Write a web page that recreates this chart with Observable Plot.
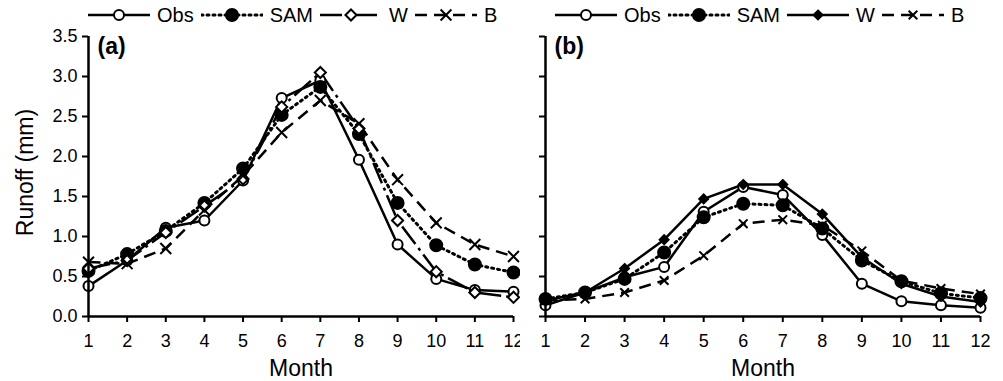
<!DOCTYPE html>
<html>
<head>
<meta charset="utf-8">
<script src="https://cdn.jsdelivr.net/npm/d3@7"></script>
<script src="https://cdn.jsdelivr.net/npm/@observablehq/plot@0.6"></script>
<style>
  body { margin: 0; background: #fff; }
  #wrap { display: flex; width: 1003px; height: 381px; overflow: hidden; }
  .legend { height: 30px; display: flex; align-items: center; font: 20px "Liberation Sans", Arial, sans-serif; color: #000; }
  .legend .item { display: flex; align-items: center; margin-right: 7px; }
  .legend .item span { margin-left: 7px; }
  .legend svg { display: block; }
  #plotA svg, #plotB svg { overflow: visible; }
</style>
</head>
<body>
<div id="wrap">
  <div id="colA" style="width:520px">
    <div class="legend" id="legA" style="padding-left:88px"></div>
    <div id="plotA"></div>
  </div>
  <div id="colB" style="width:483px">
    <div class="legend" id="legB" style="padding-left:35px"></div>
    <div id="plotB"></div>
  </div>
</div>
<script>
// ---- data ----
const months = [1, 2, 3, 4, 5, 6, 7, 8, 9, 10, 11, 12];
const seriesNames = ["Obs", "SAM", "W", "B"];
const yTicks = [0, 0.5, 1.0, 1.5, 2.0, 2.5, 3.0, 3.5];
const panelLabels = ["(a)", "(b)"];
const xLabel = "Month";
const yLabel = "Runoff (mm)";

// panel (a)
const obsA = [0.38, 0.70, 1.11, 1.20, 1.70, 2.73, 2.95, 1.96, 0.90, 0.47, 0.33, 0.31];
const samA = [0.57, 0.78, 1.07, 1.42, 1.85, 2.52, 2.87, 2.28, 1.42, 0.89, 0.65, 0.55];
const wA   = [0.60, 0.70, 1.05, 1.38, 1.72, 2.62, 3.05, 2.35, 1.20, 0.56, 0.30, 0.24];
const bA   = [0.68, 0.66, 0.85, 1.33, 1.76, 2.30, 2.70, 2.41, 1.71, 1.17, 0.90, 0.75];

// panel (b)
const obsB = [0.14, 0.30, 0.49, 0.62, 1.31, 1.62, 1.52, 1.02, 0.41, 0.19, 0.14, 0.11];
const samB = [0.22, 0.30, 0.47, 0.80, 1.24, 1.41, 1.39, 1.10, 0.70, 0.44, 0.29, 0.23];
const wB   = [0.20, 0.30, 0.60, 0.96, 1.47, 1.65, 1.65, 1.28, 0.74, 0.41, 0.25, 0.18];
const bB   = [0.20, 0.22, 0.30, 0.45, 0.76, 1.16, 1.21, 1.14, 0.82, 0.45, 0.35, 0.28];

// ---- styles ----
const styleA = {
  Obs: {dash: null,        symbol: "circle",   fill: "white", r: 5},
  SAM: {dash: "2,4",       symbol: "circle",   fill: "black", r: 6},
  W:   {dash: "22,5,3,5",  symbol: "diamond2", fill: "white", r: 5},
  B:   {dash: "12,7",      symbol: "times",    fill: "none",  r: 5}
};
const styleB = {
  Obs: {dash: null,   symbol: "circle",   fill: "white", r: 5},
  SAM: {dash: "2,4",  symbol: "circle",   fill: "black", r: 6},
  W:   {dash: null,   symbol: "diamond2", fill: "black", r: 4},
  B:   {dash: "12,7", symbol: "times",    fill: "none",  r: 4}
};
const d3Symbols = {circle: d3.symbolCircle, diamond2: d3.symbolDiamond2, times: d3.symbolTimes};

function rows(vals) { return months.map((m, i) => ({month: m, v: vals[i]})); }

function buildLegend(el, styles) {
  for (const name of seriesNames) {
    const s = styles[name];
    const item = document.createElement("div");
    item.className = "item";
    const ns = "http://www.w3.org/2000/svg";
    const svg = document.createElementNS(ns, "svg");
    svg.setAttribute("width", 62); svg.setAttribute("height", 30);
    const line = document.createElementNS(ns, "line");
    line.setAttribute("x1", 0); line.setAttribute("x2", 62);
    line.setAttribute("y1", 15); line.setAttribute("y2", 15);
    line.setAttribute("stroke", "black");
    line.setAttribute("stroke-width", name === "SAM" ? 3 : 2.5);
    if (s.dash) line.setAttribute("stroke-dasharray", s.dash);
    if (name === "SAM") line.setAttribute("stroke-linecap", "round");
    svg.appendChild(line);
    const p = document.createElementNS(ns, "path");
    p.setAttribute("d", d3.symbol(d3Symbols[s.symbol], Math.PI * s.r * s.r)());
    p.setAttribute("transform", "translate(31,15)");
    p.setAttribute("fill", s.fill);
    p.setAttribute("stroke", "black");
    p.setAttribute("stroke-width", 2);
    svg.appendChild(p);
    item.appendChild(svg);
    const t = document.createElement("span");
    t.textContent = name;
    item.appendChild(t);
    el.appendChild(item);
  }
}

function panel(dataList, styles, label, opts) {
  const marks = [];
  dataList.forEach((vals, i) => {
    const name = seriesNames[i];
    const s = styles[name];
    marks.push(Plot.line(rows(vals), {
      x: "month", y: "v", stroke: "black",
      strokeWidth: name === "SAM" ? 3 : 2.5,
      strokeDasharray: s.dash || undefined,
      strokeLinecap: name === "SAM" ? "round" : "butt"
    }));
  });
  dataList.forEach((vals, i) => {
    const s = styles[seriesNames[i]];
    marks.push(Plot.dot(rows(vals), {
      x: "month", y: "v", symbol: () => s.symbol, r: s.r,
      fill: s.fill, stroke: "black", strokeWidth: 2
    }));
  });
  return Plot.plot({
    width: opts.width, height: 351,
    marginTop: 6, marginBottom: 65, marginLeft: opts.marginLeft, marginRight: opts.marginRight,
    style: {fontFamily: '"Liberation Sans", Arial, sans-serif', fontSize: "18px", color: "black", background: "white", overflow: "visible"},
    x: {domain: [1, 12]},
    y: {domain: [0, 3.5]},
    symbol: {type: "identity"},
    marks: [
      Plot.axisX({ticks: months, tickFormat: d => String(d), tickSize: 6, tickPadding: 12, strokeWidth: 2, label: null}),
      Plot.axisY({ticks: yTicks, tickFormat: opts.yLabels ? (d => d.toFixed(1)) : (() => ""), tickSize: 6, tickPadding: 5, strokeWidth: 2, label: null}),
      ...marks,
      Plot.ruleY([0], {strokeWidth: 2.5}),
      Plot.ruleX([1], {strokeWidth: 2.5}),
      Plot.text([label], {text: d => d, frameAnchor: "top-left", dx: 9, dy: 1, lineAnchor: "top", textAnchor: "start", fontWeight: "bold", fontSize: 23}),
      Plot.text([xLabel], {text: d => d, frameAnchor: "bottom", dy: 52, lineAnchor: "middle", fontSize: 23}),
      ...(opts.yLabels ? [Plot.text([yLabel], {text: d => d, frameAnchor: "left", dx: -63, dy: -4, rotate: -90, lineAnchor: "middle", textAnchor: "middle", fontSize: 23})] : [])
    ]
  });
}

buildLegend(document.getElementById("legA"), styleA);
buildLegend(document.getElementById("legB"), styleB);
document.getElementById("plotA").appendChild(
  panel([obsA, samA, wA, bA], styleA, panelLabels[0], {width: 520, marginLeft: 88, marginRight: 7, yLabels: true}));
document.getElementById("plotB").appendChild(
  panel([obsB, samB, wB, bB], styleB, panelLabels[1], {width: 483, marginLeft: 25, marginRight: 23, yLabels: false}));
</script>
</body>
</html>
